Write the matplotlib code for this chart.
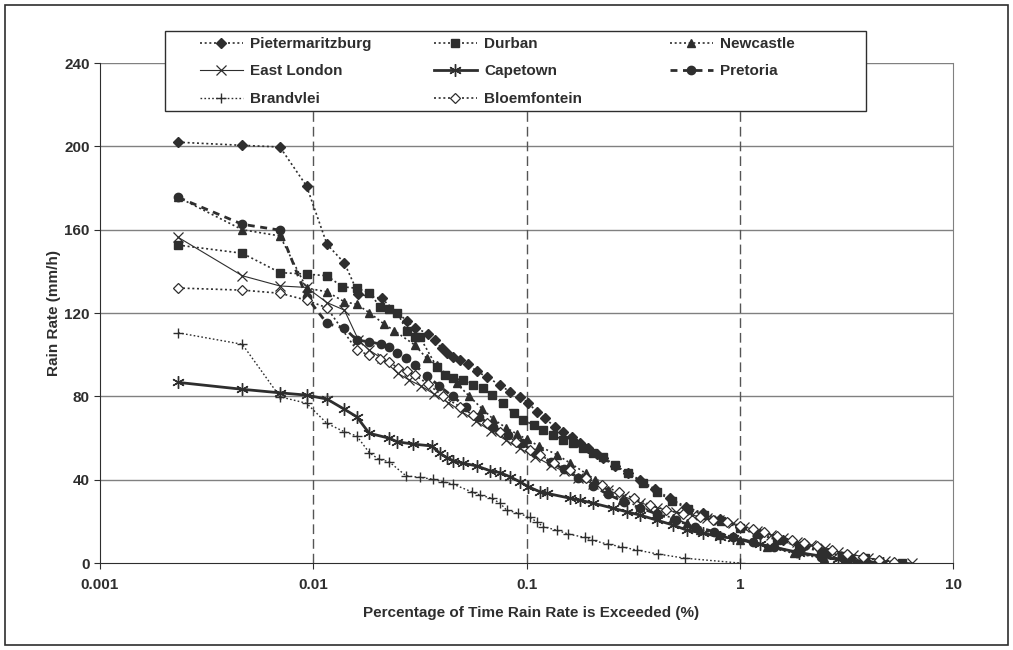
import matplotlib
matplotlib.use('Agg')
import matplotlib.pyplot as plt
from matplotlib.patches import Rectangle
from matplotlib.ticker import FixedLocator, FixedFormatter, NullLocator

plt.rcParams['font.family'] = ['Liberation Sans', 'DejaVu Sans']
plt.rcParams['font.weight'] = 'bold'

# percentage of time exceeded (%) and rain rate (mm/h) per station
pmb_x = [0.00233, 0.00465, 0.00698, 0.0093, 0.0116, 0.0140, 0.0163, 0.0209, 0.0276, 0.0300,
         0.0346, 0.0372, 0.0400, 0.0423, 0.0454, 0.0488, 0.0533, 0.0584, 0.0651, 0.0751,
         0.0837, 0.0932, 0.102, 0.112, 0.122, 0.136, 0.149, 0.163, 0.178, 0.195,
         0.213, 0.229, 0.26, 0.30, 0.34, 0.40, 0.47, 0.56, 0.67, 0.81,
         1.0, 1.25, 1.6, 2.0, 2.6, 3.3, 3.8]
pmb_y = [202, 200.5, 199.7, 181, 153, 144, 129, 127, 116, 113,
         110, 107, 103, 101, 99, 97.4, 95.5, 92, 89.4, 85.4,
         82.2, 79.8, 76.7, 72.6, 69.4, 65.4, 63, 60.6, 57.4, 55,
         52.3, 50.2, 46.5, 43, 40, 35.5, 31, 27, 24, 21,
         17.5, 14, 11, 8, 5, 2.5, 0]

durban_x = [0.00233, 0.00465, 0.00698, 0.0093, 0.0116, 0.0137, 0.0160, 0.0183, 0.0206, 0.0227,
            0.0248, 0.0274, 0.0300, 0.0317, 0.0379, 0.0415, 0.0454, 0.0505, 0.0562, 0.0625,
            0.0687, 0.0776, 0.087, 0.0968, 0.108, 0.120, 0.1335, 0.1485, 0.165, 0.184,
            0.205, 0.228, 0.26, 0.30, 0.35, 0.41, 0.48, 0.57, 0.68, 0.82,
            1.0, 1.2, 1.5, 1.9, 2.4, 3.0, 3.87, 5.74]
durban_y = [152.6, 148.7, 139.4, 138.7, 137.9, 132.6, 131.9, 129.8, 123, 121.8,
            120.2, 111.5, 108.6, 108.3, 94.2, 90.2, 88.7, 87.8, 85.4, 83.9,
            80.6, 76.7, 71.9, 68.6, 66.2, 63.8, 61.4, 59, 57.4, 55,
            52.6, 51, 47, 43, 38.5, 34, 30, 26, 23, 20,
            17, 14, 11, 8, 5.5, 3.5, 2.3, 0]

newcastle_x = [0.00233, 0.00465, 0.00698, 0.0093, 0.0116, 0.0140, 0.0160, 0.0183, 0.0215, 0.0240,
               0.0300, 0.0340, 0.0379, 0.0470, 0.0540, 0.0620, 0.0700, 0.0800, 0.0900, 0.100,
               0.115, 0.139, 0.160, 0.190, 0.210, 0.240, 0.279, 0.341, 0.410, 0.488,
               0.564, 0.65, 0.80, 1.0, 1.34, 1.8, 2.47, 3.66]
newcastle_y = [175.5, 160, 157, 132, 130.2, 125.4, 124.2, 120.2, 114.7, 111.5,
               104.6, 98.3, 95, 86.3, 80, 74, 69, 65, 62, 59.5,
               56, 52, 48, 43, 40, 35, 30.2, 27, 24, 21.5,
               19, 16, 13.5, 11, 7.8, 4.6, 2.3, 0]

eastlondon_x = [0.00233, 0.00465, 0.00698, 0.0093, 0.0116, 0.0140, 0.0163, 0.0183, 0.0209, 0.0250,
                0.0280, 0.0320, 0.0370, 0.0430, 0.0500, 0.0580, 0.0680, 0.0800, 0.0930, 0.110,
                0.130, 0.150, 0.175, 0.205, 0.240, 0.285, 0.340, 0.410, 0.500, 0.600,
                0.700, 0.800, 0.930, 1.05, 1.20, 1.40, 1.60, 1.85, 2.15, 2.50,
                2.90, 3.40, 4.00, 4.80, 6.40]
eastlondon_y = [156.3, 137.9, 133, 132.3, 125, 121.4, 107, 102.2, 98.3, 91,
                88, 85, 81, 77, 72.5, 68, 63.5, 59, 55, 51,
                47, 44, 41, 38, 35, 32, 29, 26.5, 24.5, 23,
                21.5, 20.5, 19, 17.5, 15.5, 13.5, 12, 10.2, 8.5, 7,
                5.5, 4, 2.5, 1, 0]

capetown_x = [0.00233, 0.00465, 0.00698, 0.0093, 0.0116, 0.0140, 0.0160, 0.0183, 0.0227, 0.0248,
              0.0294, 0.0359, 0.0393, 0.0423, 0.0454, 0.0505, 0.0584, 0.0674, 0.0751, 0.0837,
              0.0932, 0.102, 0.1157, 0.1243, 0.160, 0.178, 0.206, 0.255, 0.295, 0.341,
              0.408, 0.488, 0.564, 0.675, 0.808, 0.933, 1.25, 1.9, 2.9, 4.7]
capetown_y = [86.7, 83.4, 81.7, 80.6, 78.7, 73.8, 70.2, 62.3, 59.9, 58.2,
              57.1, 56.2, 52.6, 50.6, 49.1, 47.9, 46.6, 44.3, 43.4, 41.4,
              39, 36.6, 34.2, 33.5, 31.1, 30.2, 28.7, 26.3, 24.6, 23,
              20.6, 18.2, 15.8, 14.3, 12.6, 11.9, 9, 5, 2, 0]

pretoria_x = [0.00233, 0.00465, 0.00698, 0.0093, 0.0116, 0.0140, 0.0160, 0.0183, 0.0207, 0.0227,
              0.0248, 0.0272, 0.0300, 0.0340, 0.0390, 0.0450, 0.0520, 0.0600, 0.0700, 0.0820,
              0.0950, 0.110, 0.130, 0.150, 0.175, 0.205, 0.240, 0.285, 0.340, 0.410,
              0.500, 0.620, 0.760, 0.930, 1.15, 1.45, 1.85, 2.40, 3.10, 3.90]
pretoria_y = [175.5, 162.6, 159.8, 127.8, 115, 112.7, 107, 106.2, 105.1, 103.5,
              100.7, 98.3, 95, 90, 85, 80, 75, 70, 65.5, 61.5,
              57.5, 53, 48.5, 45, 41, 37, 33, 29.5, 26.5, 23.5,
              20.5, 17.5, 15, 12.5, 10, 7.5, 5, 3, 1.2, 0]

brandvlei_x = [0.00233, 0.00465, 0.00698, 0.0093, 0.0116, 0.0140, 0.0160, 0.0183, 0.0203, 0.0227,
               0.0272, 0.0317, 0.0366, 0.0407, 0.0454, 0.0553, 0.0605, 0.0687, 0.0751, 0.0807,
               0.0915, 0.1038, 0.1116, 0.1199, 0.1386, 0.157, 0.188, 0.202, 0.242, 0.279,
               0.329, 0.415, 0.554, 1.0]
brandvlei_y = [110.5, 105, 79.8, 76.7, 67, 63, 61, 53, 49.8, 48.6,
               41.9, 41.1, 40.2, 39, 37.8, 34.2, 32.6, 31.1, 28.7, 25.4,
               23.9, 21.9, 19.8, 17.4, 15.8, 13.9, 12.3, 11, 9, 7.8,
               6.2, 4.3, 2.3, 0]

bloem_x = [0.00233, 0.00465, 0.00698, 0.0093, 0.0116, 0.0160, 0.0183, 0.0206, 0.0227, 0.0250,
           0.0276, 0.0300, 0.0346, 0.0407, 0.0488, 0.0562, 0.0650, 0.0751, 0.0896, 0.1038,
           0.1157, 0.135, 0.160, 0.190, 0.225, 0.270, 0.320, 0.380, 0.450, 0.540,
           0.650, 0.750, 0.870, 1.00, 1.15, 1.30, 1.50, 1.75, 2.00, 2.30,
           2.70, 3.20, 3.80, 4.50, 5.30]
bloem_y = [132, 131, 129.5, 126.2, 122.5, 102.2, 99.8, 97.9, 96.6, 93.5,
           92.2, 90.2, 85.8, 80, 75, 71, 67, 63, 58.2, 54.2,
           51.8, 48, 44.5, 41, 37.5, 34, 31, 28, 25.5, 23.5,
           22, 20.5, 19.5, 18, 16.5, 15, 13, 11, 9.5, 8,
           6.2, 4.5, 3, 1.5, 0.5]

x_ticks = [0.001, 0.01, 0.1, 1, 10]
x_tick_labels = ['0.001', '0.01', '0.1', '1', '10']
y_ticks = [0, 40, 80, 120, 160, 200, 240]

ink = '#2e2e2e'
dot = (0, (1.2, 1.6))
fs = 11

fig = plt.figure(figsize=(10.13, 6.5), dpi=100)
ax = fig.add_axes([0.0987, 0.1338, 0.8421, 0.7692])

l_pmb, = ax.plot(pmb_x, pmb_y, linestyle=dot, lw=1.2, color=ink, marker='D', ms=5,
                 label='Pietermaritzburg')
l_dur, = ax.plot(durban_x, durban_y, linestyle=dot, lw=1.2, color=ink, marker='s', ms=5.5,
                 label='Durban')
l_new, = ax.plot(newcastle_x, newcastle_y, linestyle=dot, lw=1.2, color=ink, marker='^', ms=6,
                 label='Newcastle')
l_el, = ax.plot(eastlondon_x, eastlondon_y, linestyle='-', lw=0.8, color=ink, marker='x', ms=6.5,
                mew=0.9, label='East London')
l_cpt, = ax.plot(capetown_x, capetown_y, linestyle='-', lw=2, color=ink, marker=(6, 2, 0), ms=9,
                 mew=1, label='Capetown')
l_pta, = ax.plot(pretoria_x, pretoria_y, linestyle=(0, (2.5, 2)), lw=2, color=ink, marker='o', ms=6,
                 label='Pretoria')
l_bra, = ax.plot(brandvlei_x, brandvlei_y, linestyle=dot, lw=1, color=ink, marker='+', ms=6.5,
                 mew=1, label='Brandvlei')
l_blo, = ax.plot(bloem_x, bloem_y, linestyle=dot, lw=1.2, color=ink, marker='D', ms=5,
                 mfc='white', mew=0.9, label='Bloemfontein')

ax.set_xscale('log')
ax.set_xlim(0.001, 10)
ax.set_ylim(0, 240)
ax.xaxis.set_major_locator(FixedLocator(x_ticks))
ax.xaxis.set_major_formatter(FixedFormatter(x_tick_labels))
ax.xaxis.set_minor_locator(NullLocator())
ax.set_yticks(y_ticks)

for yv in y_ticks[1:]:
    ax.axhline(yv, color='#808080', lw=1, zorder=0)
for xv in x_ticks[1:4]:
    ax.axvline(xv, color='#555555', lw=1, linestyle=(0, (7, 3.6)), zorder=0)

ax.spines['top'].set_visible(False)
ax.spines['right'].set_color('#808080')
ax.spines['left'].set_color(ink)
ax.spines['bottom'].set_color(ink)
ax.tick_params(axis='both', colors=ink, labelsize=fs, length=4, direction='out')
ax.tick_params(axis='x', pad=7)
for t in ax.get_xticklabels() + ax.get_yticklabels():
    t.set_fontweight('bold')

fig.text(54 / 1013, 1 - 313 / 650, 'Rain Rate (mm/h)', rotation=90, ha='center', va='center',
         fontsize=fs, color=ink)
fig.text(531 / 1013, 1 - 613 / 650, 'Percentage of Time Rain Rate is Exceeded (%)', ha='center',
         va='center', fontsize=fs, color=ink)

# legend box
fig.add_artist(Rectangle((165 / 1013, 1 - 111 / 650), 701 / 1013, 80 / 650, transform=fig.transFigure,
                         facecolor='white', edgecolor=ink, lw=1, zorder=3))
cols = [([l_pmb, l_el, l_bra], 200), ([l_dur, l_cpt, l_blo], 434), ([l_new, l_pta], 670)]
for handles, xpx in cols:
    fig.legend(handles=handles, loc='upper left', bbox_to_anchor=(xpx / 1013, 1 - 37 / 650),
               frameon=False, borderpad=0, borderaxespad=0, handlelength=2.8, handletextpad=0.5,
               labelspacing=0.88, numpoints=1, prop={'size': fs, 'weight': 'bold'},
               labelcolor=ink)

# chart border
fig.add_artist(Rectangle((5 / 1013, 5 / 650), 1003 / 1013, 640 / 650, transform=fig.transFigure,
                         facecolor='none', edgecolor=ink, lw=1.2))

fig.savefig('out.png', dpi=100)
